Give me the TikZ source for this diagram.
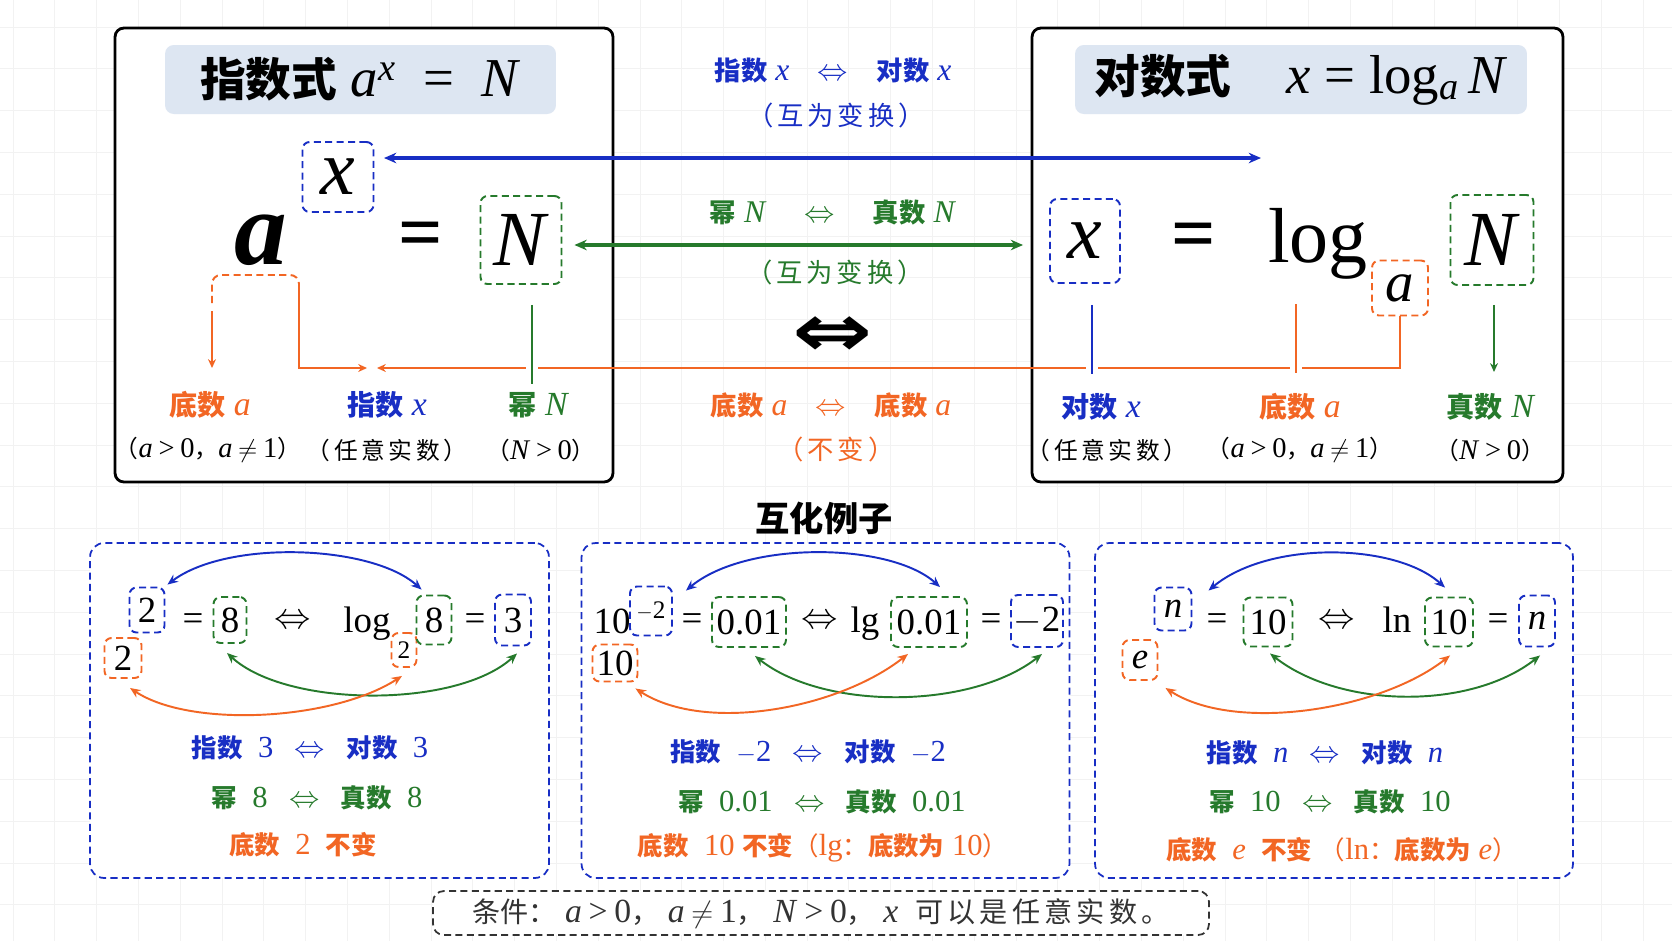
\documentclass[tikz,border=0pt]{standalone}
\usepackage{graphicx}
\usepackage{fontspec}
\setmainfont{Liberation Serif}[Scale=1.2]
\newfontfamily\zhfont{Noto Sans CJK SC}
\newfontfamily\zhwide{Noto Sans CJK SC}[LetterSpace=15]
\newfontfamily\symfont{DejaVu Sans}
\usepackage{tikz}
\usetikzlibrary{positioning, arrows.meta, calc}

\definecolor{logblue}{RGB}{24,46,196}
\definecolor{loggreen}{RGB}{38,122,44}
\definecolor{logorange}{RGB}{242,102,36}
\definecolor{headfill}{RGB}{221,230,242}

\newcommand{\zh}[1]{{\zhfont #1}}
\newcommand{\zhs}[1]{{\zhwide #1}}
\newcommand{\zhb}[1]{{\zhfont\bfseries #1}}
\newcommand{\iv}[1]{\textit{#1}}
\newcommand{\twoway}{\scalebox{1.2}{$\Leftrightarrow$}}
\newcommand{\rel}[1]{\hspace{.2em}#1\hspace{.2em}}

\begin{document}
\begin{tikzpicture}[x=0.02cm, y=-0.02cm,
  gridline/.style={draw=black!5, line width=0.4pt},
  bigbox/.style={draw=black, line width=1.6pt, rounded corners=5pt, minimum height=9.08cm},
  headbox/.style={fill=headfill, rounded corners=5pt, minimum height=1.38cm, font=\fontsize{26}{30}\selectfont},
  dbox/.style={draw=#1, dash pattern=on 4pt off 2.5pt, line width=1.1pt, rounded corners=4pt, inner sep=0pt},
  formula/.style={font=\fontsize{37}{42}\selectfont, inner sep=0pt},
  lbl/.style={font=\fontsize{16}{19}\selectfont, text=#1},
  cond/.style={font=\fontsize{13.5}{16}\selectfont},
  midlbl/.style={font=\fontsize{15}{18}\selectfont, text=#1},
  link/.style={draw=#1, line width=1.8pt, {Stealth[length=7pt,width=6pt]}-{Stealth[length=7pt,width=6pt]}},
  oline/.style={draw=logorange, line width=1.1pt},
  otip/.style={-{Stealth[length=5pt,width=4.5pt]}},
  gapline/.style={draw=#1, line width=1.1pt, preaction={draw=white, line width=7pt}},
  exbox/.style={draw=logblue, dash pattern=on 4pt off 2.5pt, line width=1pt, rounded corners=8pt, minimum height=6.7cm},
  exnum/.style={font=\fontsize{17.5}{21}\selectfont, inner sep=0pt},
  exarc/.style={draw=#1, line width=1.1pt, {Stealth[length=6pt,width=5pt]}-{Stealth[length=6pt,width=5pt]}},
  extxt/.style={font=\fontsize{14.5}{17}\selectfont, text=#1}
]
\useasboundingbox (0,0) rectangle (1672,941);

% Paper grid
\begin{scope}[shift={(13,27)}]
  \draw[gridline, step=0.836cm] (-13,-27) grid (1659,914);
\end{scope}

% Frames
\node[bigbox, fill=white, minimum width=9.96cm] (expBox) at (364,255) {};
\node[bigbox, fill=white, minimum width=10.62cm] (logBox) at (1297.5,255) {};
\node[headbox, minimum width=7.82cm] (expHead) at (360.5,79.5) {\zhb{指数式}\ \iv{a}\textsuperscript{\iv{x}}\enspace=\enspace\iv{N}};
\node[headbox, minimum width=9.04cm] (logHead) at (1301,79.5) {\zhb{对数式}\quad \iv{x}\ =\ log\textsubscript{\iv{a}}\,\iv{N}};

% Exponential form
\node[formula, font=\fontsize{50}{54}\selectfont\bfseries\itshape] (aL) at (261,240) {a};
\node[formula, dbox=logblue, minimum width=1.42cm, minimum height=1.40cm] (xL) at (338,177) {\iv{x}};
\node[formula] (eqL) at (421,240) {\textbf{=}};
\node[formula, dbox=loggreen, minimum width=1.62cm, minimum height=1.76cm] (nL) at (521,240) {\iv{N}};

% Logarithmic form
\node[formula, dbox=logblue, minimum width=1.40cm, minimum height=1.68cm] (xR) at (1085,241) {\iv{x}};
\node[formula] (eqR) at (1194,241) {\textbf{=}};
\node[formula, anchor=base] (logR) at (1318,262) {log};
\node[dbox=logorange, minimum width=1.12cm, minimum height=1.10cm, font=\fontsize{27}{30}\selectfont] (aR) at (1400,288) {\iv{a}};
\node[formula, dbox=loggreen, minimum width=1.66cm, minimum height=1.80cm] (nR) at (1492,240) {\iv{N}};

% Orange base links
\coordinate (brL) at (212,303);
\coordinate (brR) at (299,285);
\coordinate (baseTip) at (212,368);
\coordinate (expTip) at (367,368);
\coordinate (expTip2) at (377,368);
\draw[oline, dash pattern=on 4pt off 2.5pt, rounded corners=5pt] (brL) -- (212,275) -- (299,275) -- (brR);
\draw[oline, otip] ($(brL)+(0,8)$) -- (baseTip);
\draw[oline, otip] (brR) |- (expTip);
\draw[oline, otip] (aR.south) |- (expTip2);

% Vertical ticks
\draw[gapline=loggreen] ($(nL.south)+(11,20)$) -- ++(0,79);
\draw[gapline=logblue] ($(xR.south)+(7,21)$) -- ++(0,69);
\draw[gapline=logorange] ($(logR.base)+(-22,42)$) -- ++(0,69);
\draw[draw=loggreen, line width=1.1pt, otip] ($(nR.south)+(2,19)$) -- ++(0,67);

% Exchange arrows
\coordinate (bluL) at (384,158);
\coordinate (bluR) at (1261,158);
\draw[link=logblue] (bluL) -- (bluR);
\draw[link=loggreen] ($(nL.east)+(12,5)$) -- ($(xR.west)+(-26,4)$);

% Labels, left
\node[lbl=logorange] (lbBase) at (210,405) {\zhb{底数}\ \iv{a}};
\node[lbl=logblue] (lbExp) at (387,405) {\zhb{指数}\ \iv{x}};
\node[lbl=loggreen] (lbPow) at (539,405) {\zhb{幂}\ \iv{N}};
\node[cond] (cdBase) at (208,450) {\zh{（}\iv{a}\rel{>}0\zh{，}\iv{a}\rel{$\neq$}1\zh{）}};
\node[cond] (cdExp) at (387,450) {\zhs{（任意实数）}};
\node[cond] (cdPow) at (541,450) {\zh{（}\iv{N}\rel{>}0\zh{）}};

% Labels, right
\node[lbl=logblue] (lbLog) at (1101,407) {\zhb{对数}\ \iv{x}};
\node[lbl=logorange] (lbBaseR) at (1300,407) {\zhb{底数}\ \iv{a}};
\node[lbl=loggreen] (lbTrue) at (1491,407) {\zhb{真数}\ \iv{N}};
\node[cond] (cdLog) at (1107,450) {\zhs{（任意实数）}};
\node[cond] (cdBaseR) at (1300,450) {\zh{（}\iv{a}\rel{>}0\zh{，}\iv{a}\rel{$\neq$}1\zh{）}};
\node[cond] (cdTrue) at (1490,450) {\zh{（}\iv{N}\rel{>}0\zh{）}};

% Middle notes
\node[midlbl=logblue] (mX) at (833,71) {\zhb{指数}\ \iv{x}\hspace{0.9em}\twoway\hspace{0.9em}\zhb{对数}\ \iv{x}};
\node[midlbl=logblue] (mXp) at (836,115) {\zhs{（互为变换）}};
\node[midlbl=loggreen] (mN) at (833,213) {\zhb{幂}\ \iv{N}\hspace{1.2em}\twoway\hspace{1.2em}\zhb{真数}\ \iv{N}};
\node[midlbl=loggreen] (mNp) at (835,272) {\zhs{（互为变换）}};
\node[font=\fontsize{42}{46}\selectfont\symfont\bfseries] (bigLR) at (833,337) {\scalebox{1.3}[1]{⇔}};
\node[midlbl=logorange] (mA) at (831,405) {\zhb{底数}\ \iv{a}\hspace{0.9em}\twoway\hspace{0.9em}\zhb{底数}\ \iv{a}};
\node[midlbl=logorange] (mAp) at (836,449) {\zhs{（不变）}};

% ===== Examples =====
\node[font=\fontsize{19.5}{22}\selectfont] (exHead) at (824,518) {\zhb{互化例子}};

% Example 1
\node[exbox, fill=white, minimum width=9.18cm] (ex1) at (319.5,710.5) {};
\node[exnum, dbox=logblue, minimum width=0.70cm, minimum height=0.90cm] (e1x) at (147,610) {2};
\node[exnum, dbox=logorange, minimum width=0.74cm, minimum height=0.80cm] (e1b) at (123,658) {2};
\node[exnum] (e1q) at (193,622) {=};
\node[exnum, dbox=loggreen, minimum width=0.66cm, minimum height=0.92cm] (g1) at (230,620) {8};
\node[exnum, font=\fontsize{20}{22}\selectfont] (e1lr) at (293,622) {$\Leftrightarrow$};
\node[exnum, anchor=base] (l1) at (367,632) {log};
\node[dbox=logorange, minimum width=0.50cm, minimum height=0.68cm, font=\fontsize{12}{14}\selectfont] (l1b) at (404,650) {2};
\node[exnum, dbox=loggreen, minimum width=0.70cm, minimum height=0.98cm] (g2) at (434,620) {8};
\node[exnum] (e1q2) at (475,622) {=};
\node[exnum, dbox=logblue, minimum width=0.72cm, minimum height=1.02cm] (e1y) at (513,620) {3};
\draw[exarc=logblue] ($(e1x.north east)+(2,-2)$) .. controls +(60,-45) and +(-50,-45) .. ($(g2.north west)+(6,-5)$);
\draw[exarc=loggreen] ($(g1.south)+(-3,9)$) .. controls +(60,55) and +(-60,55) .. ($(e1y.south)+(4,7)$);
\draw[exarc=logorange] ($(e1b.south)+(7,9)$) .. controls +(60,40) and +(-70,45) .. ($(l1b.south)+(-2,8)$);
\node[extxt=logblue] (t1a) at (310,748) {\zhb{指数}\ \ 3\hspace{.7em}\twoway\hspace{.7em}\zhb{对数}\ \ 3};
\node[extxt=loggreen] (t1b) at (317,798) {\zhb{幂}\ \ 8\hspace{.7em}\twoway\hspace{.7em}\zhb{真数}\ \ 8};
\node[extxt=logorange] (t1c) at (303,845) {\zhb{底数}\ \ 2\ \ \zhb{不变}};

% Example 2
\node[exbox, fill=white, minimum width=9.76cm] (ex2) at (825.5,710.5) {};
\node[exnum] (b2) at (612,621) {10};
\node[dbox=logblue, minimum width=0.84cm, minimum height=0.98cm, font=\fontsize{12}{14}\selectfont] (e2x) at (651,611) {$-$2};
\node[exnum, dbox=logorange, minimum width=0.90cm, minimum height=0.74cm] (e2b) at (615,663) {10};
\node[exnum] (e2q) at (692,622) {=};
\node[exnum, dbox=loggreen, minimum width=1.48cm, minimum height=1.00cm] (g2a) at (749,622) {0.01};
\node[exnum, font=\fontsize{20}{22}\selectfont] (e2lr) at (820,622) {$\Leftrightarrow$};
\node[exnum, anchor=base] (lg2) at (865,632) {lg};
\node[exnum, dbox=loggreen, minimum width=1.52cm, minimum height=1.00cm] (g2b) at (929,622) {0.01};
\node[exnum] (e2q2) at (991,622) {=};
\node[exnum, dbox=logblue, minimum width=1.04cm, minimum height=1.04cm] (e2y) at (1037,621) {\scalebox{1.2}{$-$}2};
\draw[exarc=logblue] ($(e2x.north east)+(13,5)$) .. controls +(60,-50) and +(-50,-45) .. ($(g2b.north)+(11,-9)$);
\draw[exarc=loggreen] ($(g2a.south)+(6,8)$) .. controls +(70,55) and +(-70,55) .. ($(e2y.south)+(5,6)$);
\draw[exarc=logorange] ($(e2b.south east)+(-3,6)$) .. controls +(70,45) and +(-70,55) .. ($(g2b.south)+(-21,6)$);
\node[extxt=logblue] (t2a) at (808,752) {\zhb{指数}\ \ $-$2\hspace{.7em}\twoway\hspace{.7em}\zhb{对数}\ \ $-$2};
\node[extxt=loggreen] (t2b) at (822,802) {\zhb{幂}\ \ 0.01\hspace{.7em}\twoway\hspace{.7em}\zhb{真数}\ \ 0.01};
\node[extxt=logorange] (t2c) at (823,848) {\zhb{底数}\ \ 10\ \zhb{不变}\zh{（}lg\zh{：}\zhb{底数为}\ 10\zh{）}};

% Example 3
\node[exbox, fill=white, minimum width=9.56cm] (ex3) at (1334,710.5) {};
\node[exnum, dbox=logblue, minimum width=0.74cm, minimum height=0.86cm] (e3x) at (1173,609) {\iv{n}};
\node[exnum, dbox=logorange, minimum width=0.70cm, minimum height=0.80cm] (e3b) at (1140,660) {\iv{e}};
\node[exnum] (e3q) at (1217,622) {=};
\node[exnum, dbox=loggreen, minimum width=0.98cm, minimum height=0.98cm] (g3a) at (1268,622) {10};
\node[exnum, font=\fontsize{20}{22}\selectfont] (e3lr) at (1337,622) {$\Leftrightarrow$};
\node[exnum, anchor=base] (ln3) at (1397,632) {ln};
\node[exnum, dbox=loggreen, minimum width=0.96cm, minimum height=0.98cm] (g3b) at (1449,622) {10};
\node[exnum] (e3q2) at (1498,622) {=};
\node[exnum, dbox=logblue, minimum width=0.72cm, minimum height=1.02cm] (e3y) at (1537,621) {\iv{n}};
\draw[exarc=logblue] ($(e3x.north east)+(16,4)$) .. controls +(60,-50) and +(-50,-45) .. ($(g3b.north)+(-4,-9)$);
\draw[exarc=loggreen] ($(g3a.south)+(2,6)$) .. controls +(70,55) and +(-70,55) .. ($(e3y.south)+(3,8)$);
\draw[exarc=logorange] ($(e3b.south east)+(7,7)$) .. controls +(70,45) and +(-70,55) .. ($(g3b.south)+(1,8)$);
\node[extxt=logblue] (t3a) at (1325,753) {\zhb{指数}\ \ \iv{n}\hspace{.7em}\twoway\hspace{.7em}\zhb{对数}\ \ \iv{n}};
\node[extxt=loggreen] (t3b) at (1330,802) {\zhb{幂}\ \ 10\hspace{.7em}\twoway\hspace{.7em}\zhb{真数}\ \ 10};
\node[extxt=logorange] (t3c) at (1342,850) {\zhb{底数}\ \ \iv{e}\ \ \zhb{不变}\ \zh{（}ln\zh{：}\zhb{底数为}\ \iv{e}\zh{）}};

% Condition
\node[draw=black!80, fill=white, dash pattern=on 4pt off 2.5pt, line width=1pt, rounded corners=6pt, minimum width=15.52cm, minimum height=0.80cm, font=\fontsize{16}{18}\selectfont, text=black!80] (cond) at (821,913) {\zh{条件：}\ \iv{a}\rel{>}0\zh{，}\ \iv{a}\rel{$\neq$}1\zh{，}\ \iv{N}\rel{>}0\zh{，}\ \iv{x}\ \ \zhs{可以是任意实数。}};

\end{tikzpicture}
\end{document}
